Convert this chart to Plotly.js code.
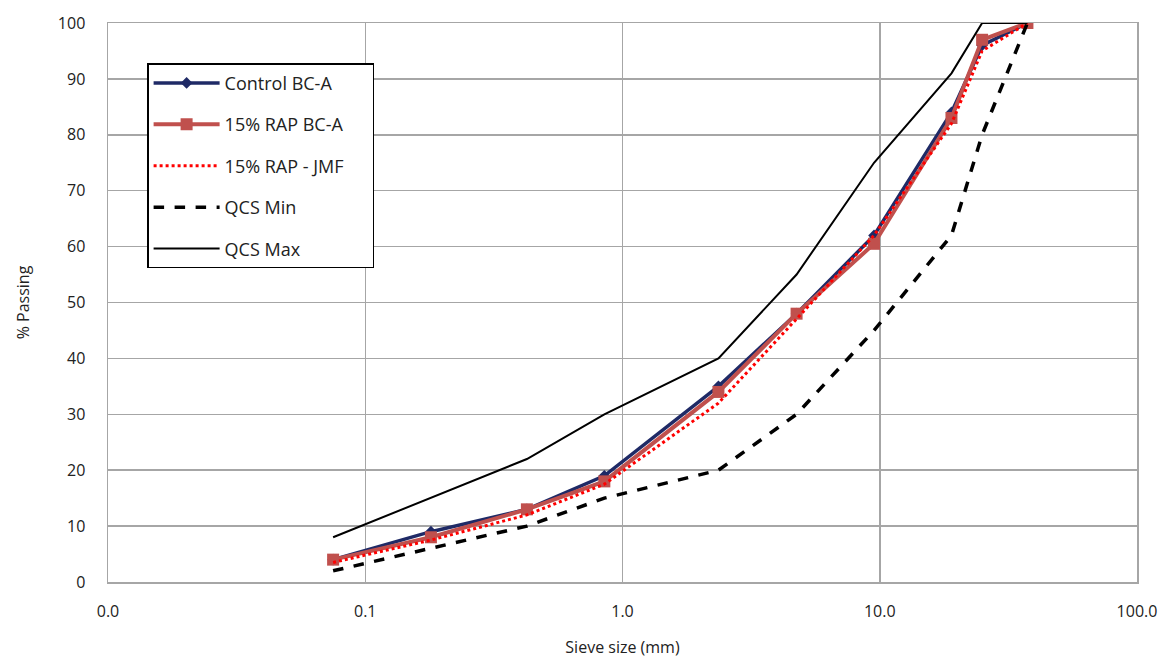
<!DOCTYPE html>
<html>
<head>
<meta charset="utf-8">
<script src="https://cdn.plot.ly/plotly-3.0.1.min.js"></script>
<style>html,body{margin:0;padding:0;background:#fff;}#chart{width:1170px;height:658px;}</style>
</head>
<body>
<div id="chart"></div>
<script>
const sieveSizes = [0.075, 0.18, 0.425, 0.85, 2.36, 4.75, 9.5, 19, 25, 37.5];
const controlBCA = [4, 9, 13, 19, 35, 48, 62, 84, 96, 100];
const rapBCA = [4, 8, 13, 18, 34, 48, 60.5, 83, 97, 100];
const rapJMF = [3.5, 7.5, 12, 17.5, 32, 47, 62, 82, 95, 100];
const qcsSizes = [0.075, 0.425, 0.85, 2.36, 4.75, 9.5, 19, 25, 37.5];
const qcsMin = [2, 10, 15, 20, 30, 45, 62, 80, 100];
const qcsMax = [8, 22, 30, 40, 55, 75, 91, 100, 100];
const xTickVals = [0.01, 0.1, 1, 10, 100];
const xTickText = ["0.0", "0.1", "1.0", "10.0", "100.0"];

const font = "Open Sans, Noto Sans, sans-serif";
const pad = "\u00a0\u00a0\u00a0\u00a0\u00a0";
const traces = [
  {x: sieveSizes, y: controlBCA, name: "Control BC-A", mode: "lines+markers", legendgroup: "a",
   line: {color: "#1f2a66", width: 3.5}, marker: {symbol: "diamond", size: 9, color: "#1f2a66"}},
  {x: sieveSizes, y: rapBCA, name: "15% RAP BC-A", mode: "lines+markers", legendgroup: "b",
   line: {color: "#c0504d", width: 4}, marker: {symbol: "square", size: 12, color: "#c0504d"}},
  {x: sieveSizes, y: rapJMF, name: "15% RAP - JMF" + pad, mode: "lines", legendgroup: "c",
   line: {color: "#ff0000", width: 3, dash: "dot"}},
  {x: qcsSizes, y: qcsMin, name: "QCS Min", mode: "lines", legendgroup: "d",
   line: {color: "#000000", width: 3.5, dash: "dash"}},
  {x: qcsSizes, y: qcsMax, name: "QCS Max", mode: "lines", legendgroup: "e",
   line: {color: "#000000", width: 2}}
];

const layout = {
  width: 1170, height: 658,
  margin: {l: 108, r: 33, t: 23, b: 76},
  paper_bgcolor: "#ffffff", plot_bgcolor: "#ffffff",
  font: {family: font, size: 16, color: "#222"},
  showlegend: true,
  legend: {x: 0.038, y: 0.928, xanchor: "left", yanchor: "top",
    bordercolor: "#000", borderwidth: 1.5, bgcolor: "#fff", itemwidth: 66,
    font: {family: font, size: 18, color: "#222"}, tracegroupgap: 15},
  xaxis: {type: "log", range: [-2, 2], tickvals: xTickVals, ticktext: xTickText,
    showgrid: true, gridcolor: "#a6a6a6", gridwidth: 1.5,
    showline: true, linecolor: "#a6a6a6", linewidth: 1.5, mirror: true, zeroline: false,
    ticks: "", tickfont: {size: 16}, ticklabelstandoff: 14,
    title: {text: "Sieve size (mm)", font: {size: 16}, standoff: 24}},
  yaxis: {range: [0, 100], dtick: 10, showgrid: true, gridcolor: "#a6a6a6", gridwidth: 1.5,
    showline: true, linecolor: "#a6a6a6", linewidth: 1.5, mirror: true, zeroline: false,
    ticks: "", tickfont: {size: 16}, ticklabelstandoff: 18,
    title: {text: "% Passing", font: {size: 16}, standoff: 24}}
};
Plotly.newPlot("chart", traces, layout, {displayModeBar: false, staticPlot: true});
</script>
</body>
</html>
